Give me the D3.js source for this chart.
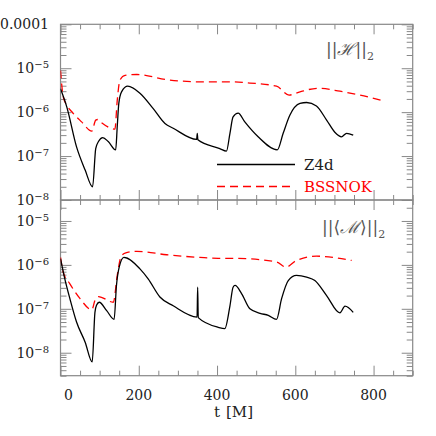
<!DOCTYPE html>
<html>
<head>
<meta charset="utf-8">
<script src="https://cdn.jsdelivr.net/npm/d3@7"></script>
<style>
  body { margin: 0; background: #fff; }
  svg text { font-family: "DejaVu Serif", "Liberation Serif", serif; fill: #222; }
</style>
</head>
<body>
<svg id="chart" width="436" height="436"></svg>
<script>
// time samples [M] and norms
var tZ4dH = [0, 16, 41, 63, 82, 90, 97, 108, 122, 141, 145, 149, 156, 172, 203, 237, 267, 288, 348, 349.5, 351, 407, 424, 433, 441, 454, 471, 505, 554, 569, 586, 612, 629, 654, 680, 701, 718, 731, 748];
var z4dH = [3.4e-6, 1.32e-6, 1.62e-7, 4.8e-8, 2.0e-8, 1.48e-7, 2.14e-7, 2.63e-7, 2.14e-7, 1.38e-7, 4.7e-7, 1.58e-6, 2.9e-6, 3.9e-6, 2.7e-6, 1.2e-6, 5.5e-7, 4.3e-7, 2.4e-7, 3.3e-7, 2.35e-7, 1.48e-7, 1.29e-7, 3.3e-7, 7.8e-7, 9.5e-7, 6.0e-7, 2.75e-7, 1.38e-7, 3.3e-7, 8.5e-7, 1.58e-6, 1.66e-6, 1.38e-6, 6.6e-7, 3.5e-7, 2.75e-7, 3.3e-7, 3.0e-7];

var tBssnH = [0, 7, 16, 29, 54, 80, 90, 95, 105, 139, 145, 152, 165, 195, 271, 356, 433, 484, 552, 584, 612, 658, 714, 765, 824];
var bssnH = [8.9e-6, 2.24e-6, 1.45e-6, 1.02e-6, 6.0e-7, 3.7e-7, 6.6e-7, 6.8e-7, 5.75e-7, 4.1e-7, 1.86e-6, 5.4e-6, 6.9e-6, 7.2e-6, 5.5e-6, 4.9e-6, 4.9e-6, 4.6e-6, 3.9e-6, 2.45e-6, 2.9e-6, 3.5e-6, 3.0e-6, 2.45e-6, 1.82e-6];

var tZ4dM = [0, 11, 24, 41, 63, 81, 88, 92, 99, 118, 137, 143, 150, 162, 203, 224, 254, 288, 349, 350.5, 352, 403, 420, 433, 441, 446, 463, 484, 510, 531, 552, 565, 582, 603, 629, 650, 680, 714, 727, 748];
var z4dM = [1.38e-6, 4.8e-7, 1.7e-7, 5.0e-8, 1.74e-8, 6.2e-9, 8.3e-8, 1.2e-7, 1.41e-7, 9.1e-8, 5.75e-8, 3.4e-7, 8.9e-7, 1.48e-6, 8.1e-7, 4.8e-7, 1.86e-7, 1.17e-7, 6.5e-8, 3.1e-7, 6.3e-8, 3.8e-8, 3.55e-8, 1.17e-7, 3.1e-7, 3.4e-7, 2.2e-7, 1.0e-7, 7.9e-8, 7.1e-8, 5.75e-8, 1.7e-7, 4.4e-7, 5.75e-7, 5.25e-7, 4.4e-7, 2.0e-7, 8.1e-8, 1.15e-7, 8.3e-8];

var tBssnM = [0, 7, 24, 50, 80, 88, 97, 135, 145, 154, 165, 195, 271, 356, 403, 441, 552, 576, 603, 654, 697, 744];
var bssnM = [1.48e-6, 6.8e-7, 3.7e-7, 1.7e-7, 9.5e-8, 1.55e-7, 1.9e-7, 1.41e-7, 5.75e-7, 1.48e-6, 1.86e-6, 2.04e-6, 1.7e-6, 1.48e-6, 1.41e-6, 1.41e-6, 1.17e-6, 8.9e-7, 1.26e-6, 1.58e-6, 1.48e-6, 1.26e-6];

var xTickLabels = [0, 200, 400, 600, 800];
var topTicks = [1e-8, 1e-7, 1e-6, 1e-5, 1e-4];
var botTicks = [1e-8, 1e-7, 1e-6, 1e-5];
var seriesNames = ["Z4d", "BSSNOK"];

var svg = d3.select("#chart");
var padLeft = 60.5, padRight = 412.7, padTop = 24.3, padMid = 200, padBottom = 375.7;
var frameColor = "#888";

var x = d3.scaleLinear().domain([0, 900]).range([padLeft, padRight]);
var yTop = d3.scaleLog().domain([1e-8, 1e-4]).range([padMid, padTop]);
var yBot = d3.scaleLog().domain([3e-9, 3e-5]).range([padBottom, padMid]);

var xMinor = d3.range(0, 901, 50).filter(function (d) { return d % 200 !== 0; });

function zip(ts, vs) {
    return ts.map(function (t, i) { return [t, vs[i]]; });
}

function styleAxis(g) {
    g.select(".domain").remove();
    g.selectAll("line").attr("stroke", frameColor).attr("stroke-width", 1);
    g.selectAll("text").remove();
}

function logMinors(y) {
    return y.ticks().filter(function (d) {
        var e = Math.log10(d);
        return Math.abs(e - Math.round(e)) > 1e-6;
    });
}

function drawPanel(y, y0, y1, majors, cls) {
    var minors = logMinors(y);
    // x ticks on bottom and top edge
    svg.append("g").attr("transform", "translate(0," + y0 + ")")
        .call(d3.axisBottom(x).tickValues(xTickLabels).tickSize(-10)).call(styleAxis);
    svg.append("g").attr("transform", "translate(0," + y0 + ")")
        .call(d3.axisBottom(x).tickValues(xMinor).tickSize(-5)).call(styleAxis);
    svg.append("g").attr("transform", "translate(0," + y1 + ")")
        .call(d3.axisTop(x).tickValues(xTickLabels).tickSize(-10)).call(styleAxis);
    svg.append("g").attr("transform", "translate(0," + y1 + ")")
        .call(d3.axisTop(x).tickValues(xMinor).tickSize(-5)).call(styleAxis);
    // y ticks left and right
    svg.append("g").attr("transform", "translate(" + padLeft + ",0)")
        .call(d3.axisLeft(y).tickValues(majors).tickSize(-11)).call(styleAxis);
    svg.append("g").attr("transform", "translate(" + padLeft + ",0)")
        .call(d3.axisLeft(y).tickValues(minors).tickSize(-6)).call(styleAxis);
    svg.append("g").attr("transform", "translate(" + padRight + ",0)")
        .call(d3.axisRight(y).tickValues(majors).tickSize(-11)).call(styleAxis);
    svg.append("g").attr("transform", "translate(" + padRight + ",0)")
        .call(d3.axisRight(y).tickValues(minors).tickSize(-6)).call(styleAxis);

    svg.append("rect")
        .attr("x", padLeft).attr("y", y1)
        .attr("width", padRight - padLeft).attr("height", y0 - y1)
        .attr("fill", "none").attr("stroke", frameColor).attr("stroke-width", 1.2);

    svg.append("clipPath").attr("id", "clip-" + cls)
        .append("rect").attr("x", padLeft).attr("y", y1)
        .attr("width", padRight - padLeft).attr("height", y0 - y1);

    // y labels
    majors.forEach(function (v) {
        var e = Math.round(Math.log10(v));
        var t = svg.append("text")
            .attr("x", 49).attr("y", y(v) + 5)
            .attr("text-anchor", "end")
            .style("font-size", "14px");
        if (e === -4) {
            t.text("0.0001");
        } else {
            t.append("tspan").text("10");
            t.append("tspan").attr("dy", -5).style("font-size", "10px").text("\u2212" + (-e));
        }
    });
}

drawPanel(yTop, padMid, padTop, topTicks, "top");
drawPanel(yBot, padBottom, padMid, botTicks, "bot");

// x tick labels
xTickLabels.forEach(function (v, i) {
    svg.append("text")
        .attr("x", x(v) + (i === 0 ? 8 : 0)).attr("y", padBottom + 24)
        .attr("text-anchor", "middle")
        .style("font-size", "14px")
        .text(v);
});

var xl = svg.append("text").attr("x", 214).attr("y", 417).style("font-size", "15px");
xl.append("tspan").text("t");
xl.append("tspan").attr("x", 226).text("[M]");

function drawLine(y, data, color, dashed, cls) {
    var line = d3.line()
        .x(function (d) { return x(d[0]); })
        .y(function (d) { return y(d[1]); })
        .curve(d3.curveMonotoneX);
    svg.append("path")
        .datum(data)
        .attr("clip-path", "url(#clip-" + cls + ")")
        .attr("fill", "none")
        .attr("stroke", color)
        .attr("stroke-width", 1.3)
        .attr("stroke-dasharray", dashed ? "8,5" : null)
        .attr("d", line);
}

drawLine(yTop, zip(tBssnH, bssnH), "#ff0000", true, "top");
drawLine(yTop, zip(tZ4dH, z4dH), "#000", false, "top");
drawLine(yBot, zip(tBssnM, bssnM), "#ff0000", true, "bot");
drawLine(yBot, zip(tZ4dM, z4dM), "#000", false, "bot");

// legend
var legend = [
    {name: seriesNames[0], color: "#000", dash: null, y: 164.5},
    {name: seriesNames[1], color: "#ff0000", dash: "8,5", y: 186.5}
];
legend.forEach(function (d) {
    svg.append("line")
        .attr("x1", 217).attr("x2", 295).attr("y1", d.y).attr("y2", d.y)
        .attr("stroke", d.color).attr("stroke-width", 1.3)
        .attr("stroke-dasharray", d.dash);
    svg.append("text")
        .attr("x", 304).attr("y", d.y + 5)
        .style("font-size", "15px")
        .style("fill", d.color === "#000" ? "#222" : d.color)
        .text(d.name);
});

// panel labels
var lh = svg.append("text").attr("x", 326).attr("y", 55).style("font-size", "17px").style("fill", "#555");
lh.append("tspan").text("||");
lh.append("tspan").style("font-style", "italic").text("\u210B");
lh.append("tspan").text("||");
lh.append("tspan").attr("dy", 5).style("font-size", "11px").text("2");

var lm = svg.append("text").attr("x", 322).attr("y", 233).style("font-size", "17px").style("fill", "#555");
lm.append("tspan").text("||\u27E8");
lm.append("tspan").style("font-style", "italic").text("\u2133");
lm.append("tspan").text("\u27E9||");
lm.append("tspan").attr("dy", 5).style("font-size", "11px").text("2");
</script>
</body>
</html>
